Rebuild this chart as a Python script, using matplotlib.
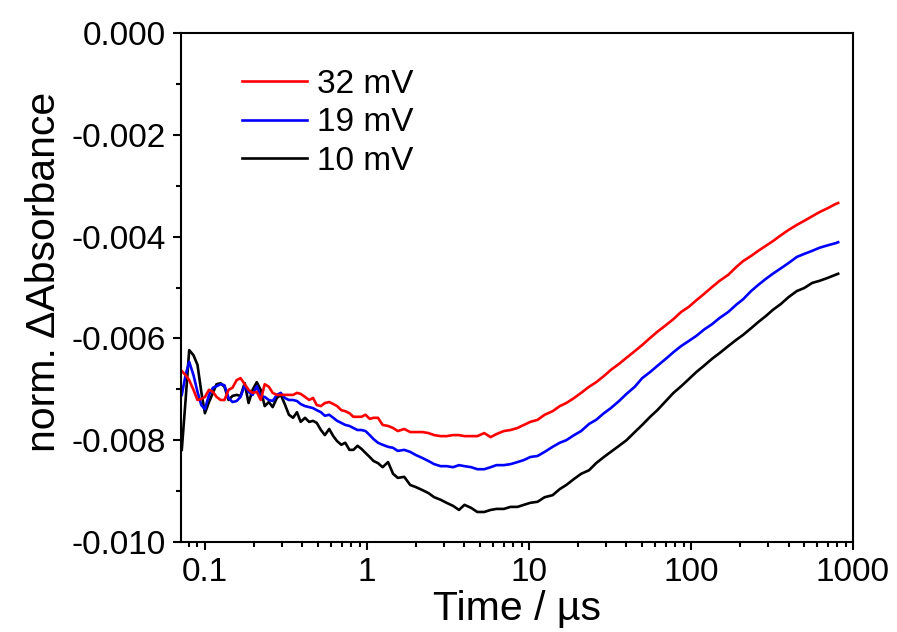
import numpy as np
import matplotlib
matplotlib.use("Agg")
import matplotlib.pyplot as plt
from matplotlib.ticker import FixedLocator, MultipleLocator, FormatStrFormatter, LogLocator, NullFormatter

plt.rcParams['font.family'] = ['Liberation Sans', 'DejaVu Sans']

time_us = [0.072, 0.076, 0.080, 0.085, 0.090, 0.095, 0.100, 0.106, 0.112, 0.118,
           0.125, 0.132, 0.140, 0.148, 0.157, 0.166, 0.176, 0.186, 0.197, 0.209,
           0.221, 0.234, 0.248, 0.262, 0.278, 0.294, 0.311, 0.330, 0.350, 0.370,
           0.390, 0.415, 0.440, 0.465, 0.490, 0.520, 0.550, 0.585, 0.620, 0.655,
           0.695, 0.735, 0.780, 0.825, 0.875, 0.925, 0.980, 1.04, 1.10, 1.17,
           1.25, 1.35, 1.45, 1.55, 1.7, 1.85, 2.0, 2.2, 2.4, 2.6,
           2.85, 3.1, 3.4, 3.7, 4.0, 4.4, 4.8, 5.3, 5.8, 6.3,
           7.0, 7.7, 8.5, 9.3, 10.2, 11.3, 12.5, 14, 15.5, 17,
           19, 21, 23.5, 26, 29, 32, 36, 40, 45, 50,
           56, 62, 70, 78, 87, 97, 108, 120, 135, 150,
           170, 190, 210, 235, 260, 290, 320, 360, 400, 450,
           500, 560, 620, 700, 780, 810]

# values in units of 1e-3 (negative absorbance change)
mv32 = [6.64, 6.72, 6.82, 7.01, 7.21, 7.19, 7.15, 7.01, 7.05, 7.15,
        7.21, 7.21, 7.01, 6.97, 6.82, 6.78, 6.90, 7.01, 7.07, 7.05,
        7.21, 6.90, 6.95, 7.07, 7.11, 7.11, 7.11, 7.11, 7.11, 7.07,
        7.09, 7.15, 7.21, 7.17, 7.31, 7.33, 7.27, 7.25, 7.29, 7.33,
        7.41, 7.43, 7.47, 7.54, 7.54, 7.54, 7.50, 7.58, 7.56, 7.56,
        7.70, 7.72, 7.76, 7.82, 7.78, 7.84, 7.84, 7.84, 7.86, 7.90,
        7.92, 7.92, 7.90, 7.90, 7.92, 7.92, 7.92, 7.86, 7.94, 7.88,
        7.82, 7.80, 7.76, 7.70, 7.64, 7.60, 7.50, 7.43, 7.33, 7.27,
        7.17, 7.07, 6.95, 6.86, 6.74, 6.62, 6.50, 6.38, 6.25, 6.13,
        5.99, 5.87, 5.74, 5.62, 5.48, 5.38, 5.25, 5.13, 4.99, 4.87,
        4.75, 4.60, 4.48, 4.38, 4.28, 4.18, 4.09, 3.97, 3.87, 3.77,
        3.69, 3.60, 3.52, 3.44, 3.36, 3.34]

mv19 = [7.11, 6.72, 6.46, 6.72, 7.05, 7.31, 7.39, 7.11, 6.97, 6.94,
        6.90, 6.92, 7.17, 7.25, 7.23, 7.15, 6.92, 7.05, 7.11, 6.94,
        7.15, 7.15, 7.21, 7.23, 7.11, 7.07, 7.17, 7.21, 7.21, 7.23,
        7.29, 7.33, 7.35, 7.37, 7.41, 7.45, 7.52, 7.50, 7.56, 7.62,
        7.66, 7.70, 7.72, 7.76, 7.80, 7.80, 7.82, 7.90, 7.98, 8.05,
        8.09, 8.13, 8.15, 8.21, 8.19, 8.23, 8.29, 8.35, 8.41, 8.47,
        8.51, 8.51, 8.53, 8.49, 8.51, 8.53, 8.57, 8.57, 8.53, 8.49,
        8.49, 8.47, 8.43, 8.39, 8.33, 8.31, 8.23, 8.13, 8.05, 8.00,
        7.90, 7.82, 7.68, 7.60, 7.47, 7.37, 7.23, 7.09, 6.95, 6.78,
        6.66, 6.54, 6.40, 6.27, 6.15, 6.05, 5.95, 5.83, 5.72, 5.60,
        5.48, 5.34, 5.23, 5.07, 4.95, 4.83, 4.73, 4.62, 4.52, 4.40,
        4.34, 4.28, 4.22, 4.17, 4.13, 4.11]

mv10 = [8.19, 7.21, 6.23, 6.33, 6.52, 7.05, 7.47, 7.25, 7.07, 6.90,
        6.88, 6.95, 7.21, 7.13, 7.11, 7.13, 6.88, 7.27, 7.01, 6.86,
        7.01, 7.33, 7.25, 7.35, 7.17, 7.11, 7.29, 7.50, 7.56, 7.45,
        7.64, 7.56, 7.64, 7.62, 7.66, 7.80, 7.90, 7.78, 7.92, 8.02,
        8.09, 8.05, 8.19, 8.19, 8.11, 8.17, 8.25, 8.33, 8.41, 8.45,
        8.53, 8.43, 8.66, 8.74, 8.72, 8.88, 8.92, 8.98, 9.04, 9.12,
        9.17, 9.23, 9.29, 9.37, 9.27, 9.33, 9.41, 9.41, 9.37, 9.35,
        9.35, 9.31, 9.31, 9.27, 9.23, 9.21, 9.12, 9.08, 8.96, 8.88,
        8.76, 8.66, 8.59, 8.45, 8.33, 8.23, 8.11, 8.00, 7.84, 7.70,
        7.54, 7.41, 7.23, 7.07, 6.94, 6.80, 6.66, 6.54, 6.40, 6.29,
        6.15, 6.03, 5.93, 5.80, 5.68, 5.56, 5.44, 5.32, 5.19, 5.07,
        5.01, 4.91, 4.87, 4.81, 4.75, 4.73]

labels = ['32 mV', '19 mV', '10 mV']
colors = ['#ff0000', '#0000ff', '#000000']

t = np.array(time_us)
series = [-np.array(mv32) * 1e-3, -np.array(mv19) * 1e-3, -np.array(mv10) * 1e-3]

fig = plt.figure(figsize=(8.97, 6.32), dpi=100)
ax = fig.add_axes([181/897, 1-542/632, (853-181)/897, (542-33)/632])

handles = [None] * 3
for i in [2, 1, 0]:
    h, = ax.plot(t, series[i], color=colors[i], lw=1.9, label=labels[i])
    handles[i] = h

ax.set_xscale('log')
ax.set_xlim(0.0712, 1000)
ax.set_ylim(-0.010, 0.000)
ax.xaxis.set_major_locator(FixedLocator([0.1, 1, 10, 100, 1000]))
ax.xaxis.set_major_formatter(matplotlib.ticker.FixedFormatter(['0.1', '1', '10', '100', '1000']))
ax.xaxis.set_minor_locator(LogLocator(base=10, subs=np.arange(2, 10), numticks=20))
ax.xaxis.set_minor_formatter(NullFormatter())
ax.yaxis.set_major_locator(MultipleLocator(0.002))
ax.yaxis.set_minor_locator(MultipleLocator(0.001))
ax.yaxis.set_major_formatter(FormatStrFormatter('%.3f'))

for s in ax.spines.values():
    s.set_linewidth(1.5)
ax.tick_params(which='both', direction='out', top=False, right=False, width=1.5, labelsize=24, colors='black')
ax.tick_params(which='major', length=6, pad=5)
ax.tick_params(which='minor', length=3.5)

ax.set_xlabel('Time / µs', fontsize=29.5, labelpad=1)
ax.set_ylabel('norm. ΔAbsorbance', fontsize=29.5, labelpad=6)
ax.yaxis.label.set_y(0.53)

ax.legend(handles=handles, labels=labels, loc='upper left', bbox_to_anchor=(0.0908, 0.929),
          frameon=False, fontsize=24, handlelength=1.95, handletextpad=0.3,
          labelspacing=0.22, borderpad=0, borderaxespad=0)

fig.savefig('out.png', dpi=100)
